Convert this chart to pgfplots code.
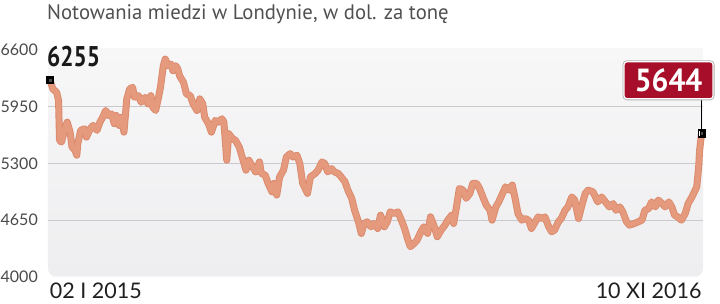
\documentclass[border=0pt]{standalone}
\usepackage{fontspec}
\setmainfont{PT Sans}
\newfontfamily\latofont{Lato}
\usepackage{pgfplots}
\usepackage{pgfplotstable}
\pgfplotsset{compat=1.18}
\definecolor{bgtop}{HTML}{F7F7F8}
\definecolor{bgbot}{HTML}{EEEEF0}
\definecolor{gridcol}{HTML}{CACACE}
\definecolor{linedark}{RGB}{219,139,109}
\definecolor{linelight}{RGB}{229,153,125}
\definecolor{boxred}{RGB}{166,14,42}
\definecolor{titlegray}{HTML}{505050}
\definecolor{tickgray}{HTML}{4A4A4A}

\pgfplotstableread{
d v
0 6255
3 6152
7 6113
9 6018
10 5563
12 5543
16 5714
18 5771
21 5657
23 5486
26 5449
28 5392
29 5525
32 5677
36 5696
38 5600
42 5696
45 5734
49 5677
52 5771
55 5828
58 5905
61 5848
64 5867
67 5753
69 5848
72 5734
75 5828
77 5657
80 6038
83 6152
86 6170
88 6056
92 6075
95 5999
99 6056
102 5981
105 6075
107 5942
110 5905
113 6056
115 6170
118 6418
120 6494
123 6418
126 6437
128 6361
131 6418
133 6380
135 6300
139 6227
142 6095
146 6075
149 5981
153 5905
156 6038
159 5981
161 5828
165 5753
168 5657
172 5791
175 5771
179 5810
181 5771
184 5335
186 5639
190 5582
193 5563
197 5486
200 5372
204 5221
207 5335
211 5258
214 5201
218 5315
220 5183
224 5164
227 5069
231 4973
233 5069
236 4936
239 5144
243 5221
246 5372
250 5410
253 5372
257 5392
260 5297
263 5069
268 4955
271 5144
276 5183
279 5221
283 5315
286 5297
289 5201
293 5239
296 5201
300 5183
303 5144
307 5087
310 4992
314 4898
317 4761
321 4629
324 4496
327 4610
330 4629
334 4572
337 4610
341 4553
344 4705
348 4572
351 4629
354 4743
358 4724
362 4743
365 4667
369 4553
372 4439
375 4344
379 4382
382 4420
386 4515
389 4572
393 4496
396 4686
400 4572
403 4458
407 4534
411 4591
414 4648
418 4705
420 4610
423 4800
426 5011
430 4992
433 4898
437 4955
440 5069
444 5069
447 5011
451 4898
454 4821
458 4761
460 4648
464 4800
467 4857
471 4955
474 5030
478 4992
481 5050
484 4898
487 4724
491 4648
494 4667
498 4648
501 4553
505 4629
508 4686
512 4667
515 4686
519 4572
522 4515
525 4534
529 4629
532 4667
536 4761
539 4800
543 4914
546 4878
550 4667
553 4800
557 4955
560 4992
565 4973
570 4857
574 4914
578 4857
582 4800
586 4838
589 4761
593 4800
596 4743
600 4629
603 4591
608 4610
612 4629
616 4648
619 4761
623 4781
626 4857
630 4800
633 4878
637 4838
640 4800
644 4857
647 4800
650 4705
653 4686
657 4648
661 4724
664 4838
668 4914
673 5030
675 5258
676 5449
678 5644
}\copper

\begin{document}
\begin{tikzpicture}
\useasboundingbox (0,0) rectangle (720pt,303pt);
\node[anchor=base west, inner sep=0pt, text=titlegray,
      font=\fontsize{21}{21}\selectfont] at (47pt,283pt)
      {\scalebox{0.985}[1]{Notowania miedzi w Londynie, w dol. za tonę}};
\begin{axis}[
  at={(48pt,26.3pt)}, anchor=south west,
  scale only axis, width=655pt, height=228.6pt,
  xmin=-2, xmax=679.5, ymin=4000, ymax=6620,
  clip=false,
  axis line style={draw=none},
  major tick length=0pt,
  ytick={4650,5300,5950},
  extra y ticks={4000,6600},
  extra y tick style={grid=none},
  ymajorgrids,
  grid style={gridcol, line width=0.8pt},
  xtick={0,678},
  xticklabels={\makebox[0pt][l]{02 I 2015},\makebox[0pt][r]{10 XI 2016}},
  xticklabel style={anchor=north, inner sep=0pt, yshift=-6pt,
     font=\latofont\fontsize{21.5}{21.5}\selectfont, text=black!88},
  yticklabel style={anchor=east, inner sep=0pt, xshift=-10pt,
     font=\latofont\fontsize{16}{16}\selectfont, text=tickgray},
  /pgf/number format/1000 sep={},
  /pgf/number format/assume math mode=true,
  axis background/.style={shade, top color=bgtop, bottom color=bgbot, rounded corners=8pt},
]
\fill[bgtop] (rel axis cs:0,1) rectangle ([xshift=9pt,yshift=-9pt]rel axis cs:0,1);
\fill[bgtop] (rel axis cs:1,1) rectangle ([xshift=-9pt,yshift=-9pt]rel axis cs:1,1);
\addplot[linedark, line width=7pt, line join=round, line cap=round] table[x=d,y=v] {\copper};
\addplot[linelight, line width=5.2pt, line join=round, line cap=round] table[x=d,y=v] {\copper};
\draw[black, line width=0.8pt] (axis cs:678,5644) -- ++(0pt,36pt);
\node[fill=boxred, draw=white, line width=1.2pt, preaction={draw=black!30, line width=3pt},
      rounded corners=3pt, minimum width=89pt, minimum height=37pt, inner sep=0pt,
      text=white, font=\fontsize{32}{32}\selectfont\bfseries]
      at (axis cs:678,5644) [xshift=-33pt, yshift=53pt] {\scalebox{0.93}[1]{5644}};
\node[anchor=south west, inner sep=0pt, text=black!90,
      font=\fontsize{28.5}{28.5}\selectfont\bfseries]
      at (axis cs:0,6255) [xshift=-3pt, yshift=13pt] {\scalebox{0.82}[1]{6255}};
\addplot[only marks, mark=square*, mark size=3.6pt,
         mark options={fill=black!18, draw=none}]
   coordinates {(0,6255) (678,5644)};
\addplot[only marks, mark=square*, mark size=3.0pt,
         mark options={fill=white, draw=none}]
   coordinates {(0,6255) (678,5644)};
\addplot[only marks, mark=square*, mark size=1.8pt,
         mark options={fill=black!70, draw=none}]
   coordinates {(0,6255) (678,5644)};
\end{axis}
\end{tikzpicture}
\end{document}
